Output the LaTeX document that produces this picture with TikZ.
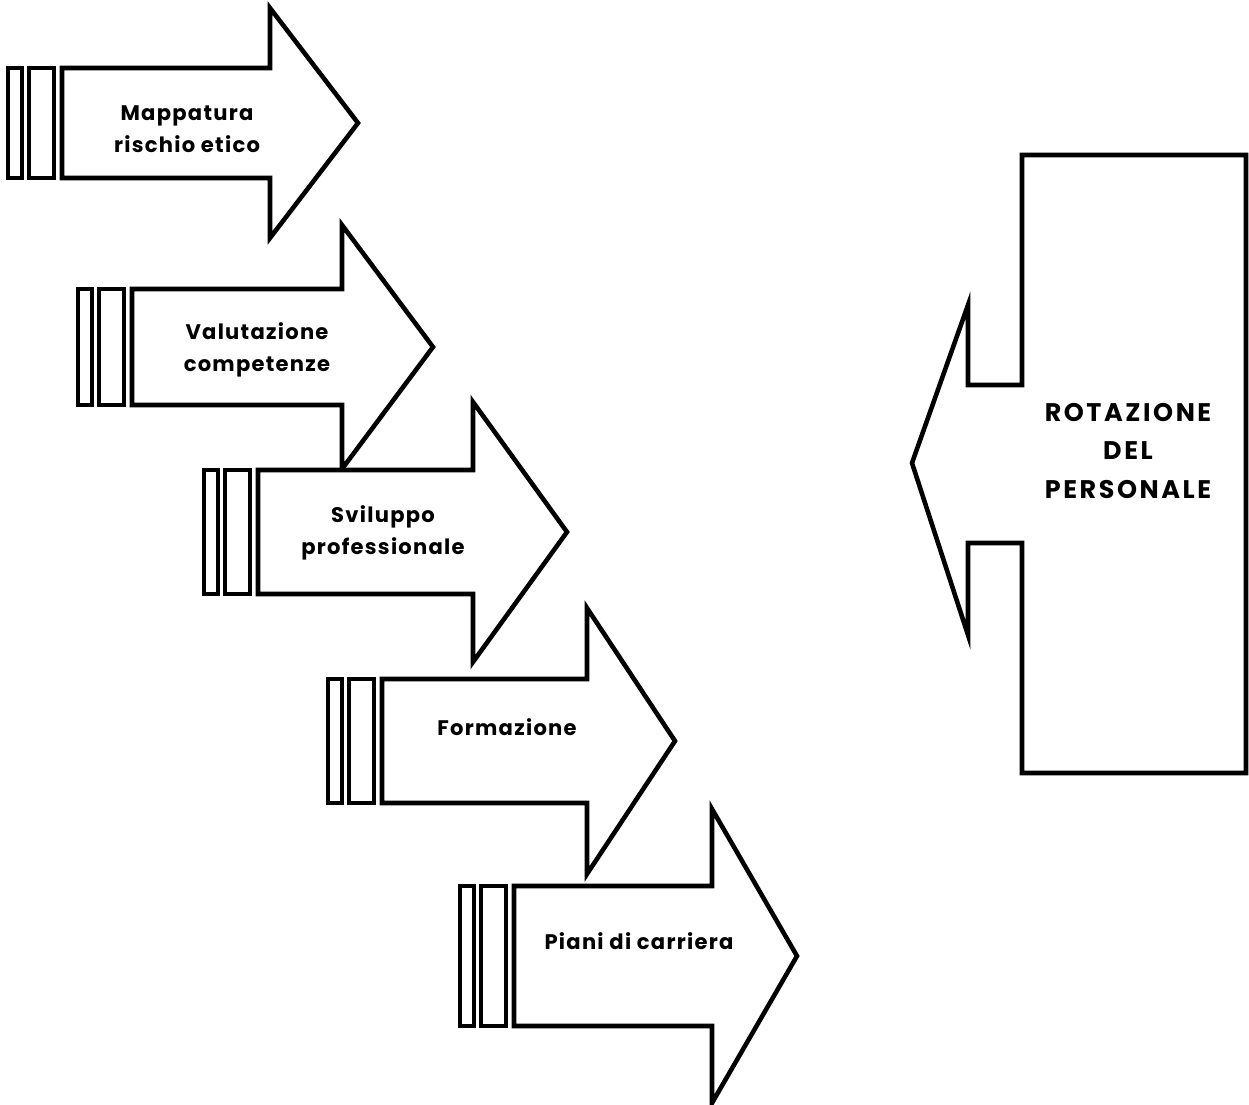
\documentclass[tikz,border=0pt]{standalone}
\usepackage{fontspec}
\setmainfont{Poppins}

\tikzset{
  freccia/.style={draw=black, line width=2.6pt, fill=white},
  barra/.style={draw=black, line width=2pt, fill=white},
  etichetta/.style={align=center, font=\fontsize{12}{18}\selectfont\bfseries\addfontfeatures{LetterSpace=6}},
  etichetta grande/.style={align=center, font=\fontsize{14.5}{22}\selectfont\bfseries\addfontfeatures{LetterSpace=10}}
}

% name, x0, y centre, body half, head half, head x, tip x, text y, text
\newcommand{\fase}[9]{%
  \draw[barra] (#2,#3-#4) rectangle ++(14,2*#4);
  \draw[barra] (#2+21,#3-#4) rectangle ++(25,2*#4);
  \draw[freccia] (#2+54,#3-#4) -- (#6,#3-#4) -- (#6,#3-#5) -- (#7,#3)
    -- (#6,#3+#5) -- (#6,#3+#4) -- (#2+54,#3+#4) -- cycle;
  \node[etichetta] (#1) at (#2+179,#8) {#9};
}

\begin{document}
\begin{tikzpicture}[x=0.02cm, y=-0.02cm]
  \useasboundingbox (0,0) rectangle (1249,1105);

  \fase{mappatura}{8}{123}{55}{115}{270}{358}{129}{Mappatura\\rischio etico}
  \fase{valutazione}{78}{347}{58}{122}{342}{433}{350}{Valutazione\\competenze}
  \fase{sviluppo}{204}{532}{62}{130}{473}{567}{533}{Sviluppo\\professionale}
  \fase{formazione}{328}{741}{62}{133}{587}{675}{727}{Formazione}
  \fase{piani}{460}{956}{70}{147}{712}{797}{941}{Piani di carriera}

  \draw[freccia] (1022,155) -- (1246,155) -- (1246,773) -- (1022,773)
    -- (1022,543) -- (968,543) -- (968,635) -- (912,463) -- (968,305)
    -- (968,385) -- (1022,385) -- cycle;
  \node[etichetta grande] (rotazione) at (1128,451) {ROTAZIONE\\DEL\\PERSONALE};
\end{tikzpicture}
\end{document}
